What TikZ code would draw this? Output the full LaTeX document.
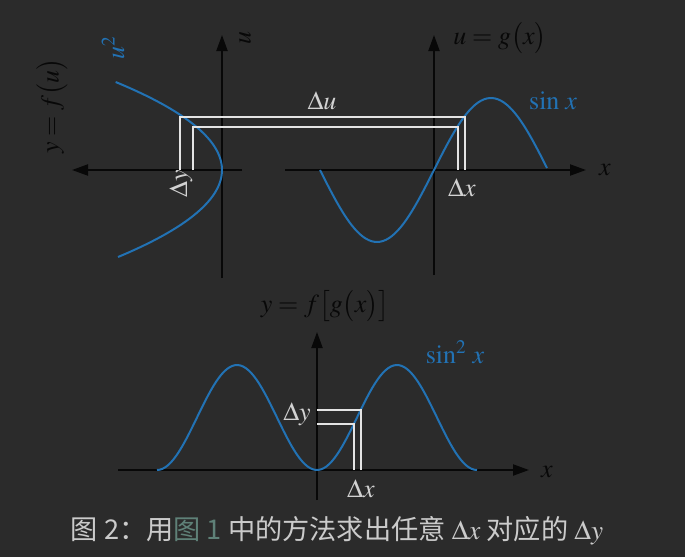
\documentclass[tikz,border=0pt]{standalone}
\usepackage{amsmath}
\usepackage{mathptmx}
\usepackage{fontspec}
\newfontfamily\cjkfont{Noto Sans CJK SC}
\usetikzlibrary{arrows.meta}
\definecolor{bgdark}{HTML}{2B2B2B}
\definecolor{curveblue}{HTML}{2272B4}
\definecolor{markwhite}{HTML}{E4E4E4}
\definecolor{labelgray}{HTML}{D2D2D2}
\definecolor{axisblack}{HTML}{080808}
\definecolor{captiongray}{HTML}{CBCBCB}
\definecolor{reflink}{HTML}{5F8178}

\begin{document}
\begin{tikzpicture}[x=0.5pt, y=-0.5pt, font=\fontsize{13}{15}\selectfont,
    axis/.style={axisblack, line width=1pt, -{Triangle[length=8pt, width=5.5pt]}},
    curve/.style={curveblue, line width=1pt},
    increment/.style={markwhite, line width=0.9pt},
    deltalabel/.style={labelgray},
    axislabel/.style={axisblack}]
    \fill[bgdark] (0,0) rectangle (685,557);
    \useasboundingbox (0,0) rectangle (685,557);

    % upper left: y = u^2, turned on its side
    \draw[axis] (222,278) -- (222,35);
    \draw[axis] (242,170) -- (72,170);
    \draw[curve] plot[domain=-87:88, samples=80] ({222-0.01374*\x*\x}, {170-\x});
    \node[axislabel, rotate=90] (ulabel) at (245,38) {$u$};
    \node[axislabel, rotate=90] (flabel) at (52,106) {$y=f\big(u\big)$};
    \node[curveblue, rotate=90] (sqlabel) at (113,48) {$u^2$};

    % upper right: u = sin x
    \draw[axis] (434,275) -- (434,35);
    \draw[axis] (285,170) -- (586,170);
    \draw[curve] plot[domain=320:547, samples=80] (\x, {170-72*sin((\x-434)/114*180)});
    \node[axislabel] (glabel) at (500,38) {$u=g\big(x\big)$};
    \node[axislabel] (xtop) at (605,170) {$x$};
    \node[curveblue] (sinlabel) at (553,101) {$\sin\,x$};

    % the two increments carried across
    \draw[increment] (180,170) -- (180,117) -- (465,117) -- (465,170);
    \draw[increment] (193,170) -- (193,127) -- (458,127) -- (458,170);
    \node[deltalabel] (du) at (322,101) {$\Delta u$};
    \node[deltalabel, rotate=90] (dyleft) at (181,184) {$\Delta y$};
    \node[deltalabel] (dxtop) at (462,188) {$\Delta x$};

    % lower: y = sin^2 x
    \draw[axis] (317,500) -- (317,332);
    \draw[axis] (118,470) -- (529,470);
    \draw[curve] plot[domain=157:477, samples=120] (\x, {470-105*sin((\x-317)/160*180)^2});
    \node[axislabel] (fglabel) at (325,306) {$y=f\big[g\big(x\big)\big]$};
    \node[axislabel] (xbottom) at (547,472) {$x$};
    \node[curveblue] (sqsinlabel) at (455,352) {$\sin^2\,x$};
    \draw[increment] (317,410) -- (361,410) -- (361,470);
    \draw[increment] (317,424) -- (354,424) -- (354,470);
    \node[deltalabel] (dyright) at (297,414) {$\Delta y$};
    \node[deltalabel] (dxbottom) at (361,489) {$\Delta x$};

    % caption
    \node[captiongray, font=\fontsize{13.6}{16}\selectfont] (caption) at (337,531)
        {\cjkfont 图 2：用{\color{reflink}图 1} 中的方法求出任意 $\Delta x$ 对应的 $\Delta y$};
\end{tikzpicture}
\end{document}
